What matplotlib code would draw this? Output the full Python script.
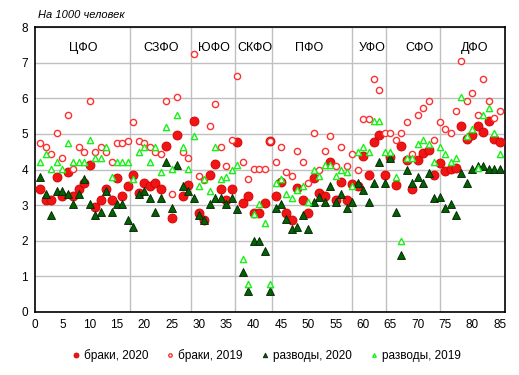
import numpy as np
import matplotlib.pyplot as plt

plt.rcParams['font.family'] = ['Liberation Sans', 'DejaVu Sans']

regions = np.arange(1, 86)

# браки, 2020
marr_2020 = [3.45, 3.13, 3.13, 3.78, 3.26, 3.94, 3.26, 3.45, 3.63, 4.13,
             2.95, 3.13, 3.45, 3.13, 3.76, 3.26, 3.54, 3.85, 3.33, 3.63,
             3.54, 3.63, 3.45, 4.66, 2.63, 4.97, 3.26, 3.57, 5.36, 2.77,
             2.58, 3.85, 4.16, 3.45, 3.13, 3.45, 4.76, 3.07, 3.26, 2.77,
             2.77, 3.07, 4.79, 3.26, 3.66, 2.77, 2.58, 3.47, 3.15, 2.77,
             3.75, 3.33, 3.27, 4.20, 3.15, 3.64, 3.15, 3.59, 3.55, 4.37,
             3.85, 4.77, 4.97, 3.85, 4.36, 3.57, 4.66, 4.27, 3.45, 4.27,
             4.46, 4.55, 3.85, 4.17, 3.95, 4.02, 4.04, 5.22, 4.85, 4.97,
             5.23, 5.05, 5.37, 4.85, 4.77]

# браки, 2019
marr_2019 = [4.74, 4.63, 4.44, 5.02, 4.32, 5.52, 4.01, 4.63, 4.50, 5.93,
             4.50, 4.63, 4.50, 4.22, 4.74, 4.74, 4.81, 5.33, 4.81, 4.74,
             4.63, 4.50, 4.44, 5.93, 3.31, 6.03, 4.50, 4.32, 7.24, 3.82,
             3.70, 5.22, 5.84, 4.63, 4.11, 4.83, 6.63, 4.22, 3.74, 4.02,
             4.02, 4.02, 4.81, 4.22, 4.63, 3.92, 3.82, 4.51, 4.22, 3.61,
             5.02, 4.00, 4.51, 4.93, 4.11, 4.63, 4.11, 4.43, 4.00, 5.42,
             5.42, 6.54, 6.24, 5.02, 5.02, 4.83, 5.02, 5.33, 4.44, 5.52,
             5.72, 5.93, 4.83, 5.33, 5.14, 5.02, 5.64, 7.05, 5.93, 6.14,
             5.53, 6.54, 5.93, 5.44, 5.64]

# разводы, 2020
div_2020 = [3.80, 3.30, 2.72, 3.41, 3.41, 3.30, 3.02, 3.30, 3.73, 3.02,
            2.72, 2.82, 3.41, 2.82, 3.02, 3.02, 2.58, 2.40, 3.30, 3.41,
            3.21, 2.82, 3.21, 4.22, 2.91, 4.13, 3.54, 3.41, 3.21, 2.72,
            2.58, 3.02, 3.21, 3.21, 3.02, 3.21, 2.90, 1.12, 0.60, 2.00,
            2.00, 1.70, 0.60, 2.91, 3.03, 2.60, 2.32, 2.40, 2.71, 2.32,
            3.10, 3.24, 3.10, 3.54, 3.10, 3.31, 2.91, 3.10, 3.61, 3.43,
            3.10, 3.61, 4.22, 3.61, 4.32, 2.82, 1.60, 3.99, 3.61, 3.80,
            3.61, 3.91, 3.20, 3.22, 2.91, 3.03, 2.72, 3.91, 3.61, 4.01,
            4.11, 4.11, 4.01, 4.01, 4.01]

# разводы, 2019
div_2019 = [4.22, 4.44, 4.01, 4.22, 4.01, 4.74, 4.22, 4.22, 4.22, 4.83,
            4.32, 4.32, 4.63, 3.80, 4.22, 4.22, 4.22, 3.73, 4.50, 4.63,
            4.22, 4.63, 3.92, 5.20, 4.01, 5.53, 4.63, 4.01, 4.93, 3.54,
            3.73, 3.41, 4.63, 3.73, 3.80, 3.99, 4.12, 1.50, 0.80, 2.75,
            3.02, 2.51, 0.80, 3.61, 3.73, 3.30, 3.21, 3.43, 3.55, 3.10,
            4.00, 3.83, 4.13, 4.13, 3.83, 4.00, 3.92, 3.55, 4.50, 4.64,
            4.50, 5.35, 5.35, 4.50, 4.50, 3.78, 2.00, 4.32, 4.32, 4.72,
            4.83, 4.72, 4.22, 4.63, 4.43, 4.21, 4.33, 6.03, 4.93, 5.13,
            4.05, 5.53, 5.72, 5.02, 4.43]

districts = ['ЦФО', 'СЗФО', 'ЮФО', 'СКФО', 'ПФО', 'УФО', 'СФО', 'ДФО']
district_pos = [8.8, 23.1, 32.7, 40.3, 50.2, 61.6, 70.3, 80.4]
borders = [17.3, 28.5, 36.6, 43.4, 58.0, 64.2, 74.1]

fig = plt.figure(figsize=(5.19, 3.75), dpi=100)
ax = fig.add_axes([0.0674, 0.168, 0.906, 0.760])

ax.set_xlim(0, 86)
ax.set_ylim(0, 8)
ax.set_xticks(np.arange(0, 86, 5))
ax.set_yticks(np.arange(0, 9, 1))
ax.tick_params(length=0, labelsize=8.5, pad=5)
ax.grid(True, axis='y', color='#c0c0c0', lw=1)
for b in borders:
    ax.axvline(b, color='#c0c0c0', lw=1, zorder=0)
ax.set_axisbelow(True)
for s in ax.spines.values():
    s.set_color('black')
    s.set_linewidth(1.2)

ax.scatter(regions, marr_2020, s=42, marker='o', facecolor='#f01414',
           edgecolor='#d00000', lw=0.6, label='браки, 2020', zorder=3)
ax.scatter(regions, marr_2019, s=20, marker='o', facecolor='white',
           edgecolor='#ff3030', lw=1, label='браки, 2019', zorder=4)
ax.scatter(regions, div_2020, s=32, marker='^', facecolor='#006400',
           edgecolor='#0a2a0a', lw=0.7, label='разводы, 2020', zorder=5)
ax.scatter(regions, div_2019, s=20, marker='^', facecolor='white',
           edgecolor='#18f018', lw=1, label='разводы, 2019', zorder=6)

for name, xp in zip(districts, district_pos):
    ax.text(xp, 7.42, name, ha='center', va='center', fontsize=9)

fig.text(0.073, 0.96, 'На 1000 человек', style='italic', fontsize=8,
         ha='left', va='center')

fig.legend(loc='center', bbox_to_anchor=(0.51, 0.053), ncol=4, frameon=False,
           fontsize=8.5, markerscale=0.55, handletextpad=0.05,
           handlelength=1.2, columnspacing=1.3)

plt.savefig('out.png', dpi=100)
